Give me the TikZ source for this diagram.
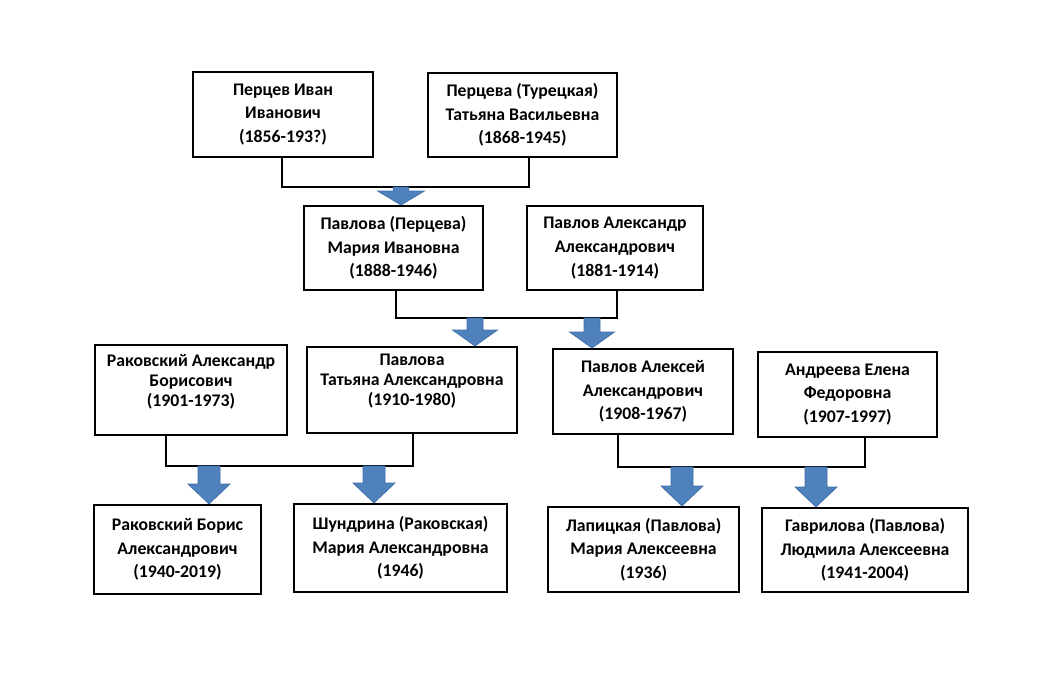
\documentclass[tikz,border=0pt]{standalone}
\usepackage{fontspec}
\setmainfont{Carlito}
\usetikzlibrary{calc}
\definecolor{arrblue}{HTML}{4F81BD}
\definecolor{arredge}{HTML}{3F6FA8}
\tikzset{
  pbox/.style={draw=black, line width=1.5pt, fill=white, align=center, inner sep=0pt,
    font=\fontsize{13.3}{17.8}\selectfont\bfseries},
  tight/.style={font=\fontsize{13.3}{15}\selectfont\bfseries},
  conn/.style={draw=black, line width=1.5pt},
  arrowfill/.style={fill=arrblue, draw=arredge, line width=0.5pt, line join=miter}
}
\newcommand\bx[6]{\node[pbox, minimum width=#4*0.75pt, minimum height=#5*0.75pt] (#1) at (#2,#3) {#6};}
% #1 start, #2 end, #3 shaft half, #4 head half, #5 head length (pt)
\newcommand\fatarrow[5]{%
  \filldraw[arrowfill] let \p1=(#1), \p2=(#2) in
  (\x1-#3,\y1) -- (\x1+#3,\y1) -- (\x1+#3,\y2+#5) -- (\x1+#4,\y2+#5) -- (\x1,\y2)
  -- (\x1-#4,\y2+#5) -- (\x1-#3,\y2+#5) -- cycle;}
\begin{document}
\begin{tikzpicture}[x=0.75pt,y=-0.75pt]
\useasboundingbox[fill=white] (0,0) rectangle (1050,679);

% generation 1
\bx{b1}{283}{114.5}{180}{85}{Перцев Иван\\Иванович\\(1856-193?)}
\bx{b2}{522.5}{115}{189}{84}{Перцева (Турецкая)\\Татьяна Васильевна\\(1868-1945)}
% generation 2
\bx{b3}{393.5}{248}{179}{84}{Павлова (Перцева)\\Мария Ивановна\\(1888-1946)}
\bx{b4}{615}{248}{176}{84}{Павлов Александр\\Александрович\\(1881-1914)}
% generation 3
\node[pbox, tight, minimum width=192*0.75pt, minimum height=90*0.75pt] (b5) at (191,390) {Раковский Александр\\Борисович\\(1901-1973)\\\mbox{}};
\node[pbox, tight, minimum width=210*0.75pt, minimum height=86*0.75pt] (b6) at (412,390) {Павлова\\Татьяна Александровна\\(1910-1980)\\\mbox{}};
\bx{b7}{643}{391.5}{180}{85}{Павлов Алексей\\Александрович\\(1908-1967)}
\bx{b8}{847.5}{394.5}{179}{85}{Андреева Елена\\Федоровна\\(1907-1997)}
% generation 4
\bx{b9}{177.5}{549.5}{167}{89}{Раковский Борис\\Александрович\\(1940-2019)}
\bx{b10}{400.5}{548}{213}{88}{Шундрина (Раковская)\\Мария Александровна\\(1946)}
\bx{b11}{643.5}{549.5}{191}{85}{Лапицкая (Павлова)\\Мария Алексеевна\\(1936)}
\bx{b12}{865}{550}{206}{84}{Гаврилова (Павлова)\\Людмила Алексеевна\\(1941-2004)}

% junction points
\coordinate (a1) at (401,187);
\coordinate (a2) at (475,318);
\coordinate (a3) at (592,318);
\coordinate (a4) at (209,466);
\coordinate (a5) at (374,466);
\coordinate (a6) at (682,467);
\coordinate (a7) at (816,467);

% couple connectors
\draw[conn] ([xshift=-0.75pt]b1.south) |- (a1) -| ([xshift=4.9pt]b2.south);
\draw[conn] ([xshift=1.9pt]b3.south) |- (a2) -| ([xshift=1.5pt]b4.south);
\draw[conn] ([xshift=-18.75pt]b5.south) |- (a4) -| ([xshift=0.75pt]b6.south);
\draw[conn] ([xshift=-18.75pt]b7.south) |- (a6) -| ([xshift=13.1pt]b8.south);

% arrows to children
\fatarrow{a1}{a1 |- b3.north}{5.6pt}{17.6pt}{10.5pt}
\fatarrow{a2}{a2 |- b6.north}{6pt}{16.9pt}{12pt}
\fatarrow{a3}{a3 |- b7.north}{6pt}{16.9pt}{12pt}
\fatarrow{a4}{a4 |- b9.north}{8.25pt}{15.75pt}{15pt}
\fatarrow{a5}{a5 |- b10.north}{8.25pt}{15.75pt}{15pt}
\fatarrow{a6}{a6 |- b11.north}{8.25pt}{15.75pt}{15pt}
\fatarrow{a7}{a7 |- b12.north}{8.25pt}{15.75pt}{15pt}
\end{tikzpicture}
\end{document}
